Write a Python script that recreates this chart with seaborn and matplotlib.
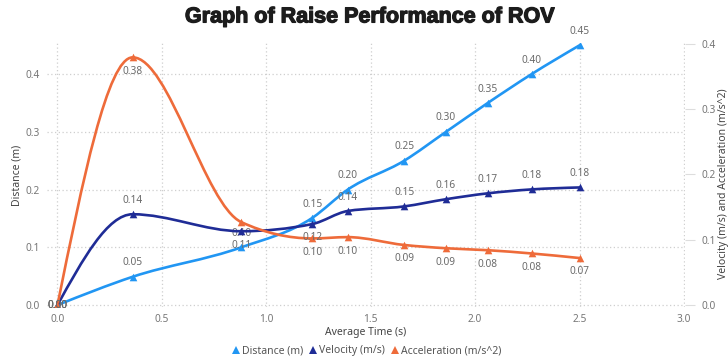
import numpy as np
import matplotlib
matplotlib.use("Agg")
import matplotlib.pyplot as plt
import matplotlib.patheffects as pe
from matplotlib.path import Path
from matplotlib.patches import PathPatch
from matplotlib.lines import Line2D
from matplotlib.ticker import FormatStrFormatter, MultipleLocator
import seaborn as sns

# ---- data -------------------------------------------------------------
time_s = [0.00, 0.36, 0.88, 1.22, 1.39, 1.66, 1.86, 2.06, 2.27, 2.50]
distance_m = [0.000, 0.049, 0.100, 0.151, 0.200, 0.250, 0.300, 0.350, 0.400, 0.450]
velocity_ms = [0.000, 0.139, 0.113, 0.124, 0.144, 0.151, 0.162, 0.171, 0.177, 0.180]
accel_ms2 = [0.000, 0.379, 0.127, 0.102, 0.104, 0.092, 0.087, 0.084, 0.079, 0.072]

series_names = ["Distance (m)", "Velocity (m/s)", "Acceleration (m/s^2)"]
x_ticks = [0.0, 0.5, 1.0, 1.5, 2.0, 2.5, 3.0]

# data label placement: 1 above, -1 below, 0 on the point, None hidden
distance_lbl = [0, 1, 1, 1, 1, 1, 1, 1, 1, 1]
velocity_lbl = [0, 1, -1, -1, 1, 1, 1, 1, 1, 1]
accel_lbl = [0, -1, None, -1, -1, -1, -1, -1, -1, -1]

colors = ["#2196F3", "#1F2C96", "#EE6B3A"]

sns.set_theme(style="white")
plt.rcParams["font.family"] = ["Noto Sans", "DejaVu Sans"]


def monotone_path(x, y):
    """Smooth monotone-X cubic through the points, as Bezier segments."""
    x = np.asarray(x, float)
    y = np.asarray(y, float)
    n = len(x)
    h = np.diff(x)
    s = np.diff(y) / h
    t = np.zeros(n)
    for i in range(1, n - 1):
        h0, h1 = h[i - 1], h[i]
        s0, s1 = s[i - 1], s[i]
        p = (s0 * h1 + s1 * h0) / (h0 + h1)
        sg0 = -1 if s0 < 0 else 1
        sg1 = -1 if s1 < 0 else 1
        t[i] = (sg0 + sg1) * min(abs(s0), abs(s1), 0.5 * abs(p))
    t[0] = (3 * s[0] - t[1]) / 2
    t[-1] = (3 * s[-1] - t[-2]) / 2
    verts = [(x[0], y[0])]
    codes = [Path.MOVETO]
    for i in range(n - 1):
        d = h[i] / 3
        verts += [(x[i] + d, y[i] + d * t[i]),
                  (x[i + 1] - d, y[i + 1] - d * t[i + 1]),
                  (x[i + 1], y[i + 1])]
        codes += [Path.CURVE4] * 3
    return Path(verts, codes)


fig = plt.figure(figsize=(7.28, 3.6), dpi=100)
ax = fig.add_axes([0.0646, 0.147, 0.8764, 0.7336])
ax2 = ax.twinx()

label_color = "#6b6b6b"


def draw_series(axis, yvals, color, placement):
    axis.add_patch(PathPatch(monotone_path(time_s, yvals), facecolor="none",
                             edgecolor=color, lw=1.9, zorder=3,
                             capstyle="round", joinstyle="round"))
    sns.scatterplot(x=time_s, y=yvals, ax=axis, marker="^", s=30,
                    color=color, edgecolor=color, linewidth=0, zorder=4,
                    legend=False)
    for xv, yv, pos in zip(time_s, yvals, placement):
        if pos is None:
            continue
        axis.annotate(f"{yv:.2f}", (xv, yv), xytext=(0, 10 * pos),
                      textcoords="offset points", ha="center", va="center",
                      fontsize=7.3, color=label_color, zorder=5)


draw_series(ax, distance_m, colors[0], distance_lbl)
draw_series(ax2, velocity_ms, colors[1], velocity_lbl)
draw_series(ax2, accel_ms2, colors[2], accel_lbl)

# ---- axes ---------------------------------------------------------------
ax.set_xlim(-0.05, 3.005)
ax.set_ylim(-0.0035, 0.454)
ax2.set_ylim(-0.003, 0.401)
ax.set_xticks(x_ticks)
ax.yaxis.set_major_locator(MultipleLocator(0.1))
ax2.yaxis.set_major_locator(MultipleLocator(0.1))
ax.xaxis.set_major_formatter(FormatStrFormatter("%.1f"))
ax.yaxis.set_major_formatter(FormatStrFormatter("%.1f"))
ax2.yaxis.set_major_formatter(FormatStrFormatter("%.1f"))

for a in (ax, ax2):
    for sp in a.spines.values():
        sp.set_visible(False)

ax.grid(True, linestyle=(0, (1, 2)), color="#cfcfcf", lw=0.9)
ax2.grid(False)
ax.set_axisbelow(True)

ax.tick_params(axis="both", length=0, labelsize=7.3, labelcolor="#777777", pad=5)
ax2.tick_params(axis="y", length=7, width=0.8, color="#dddddd", labelsize=7.3,
                labelcolor="#777777", pad=5)

ax.set_xlabel("Average Time (s)", fontsize=7.5, color="#444444")
ax.xaxis.set_label_coords(0.5, -0.098)
ax.xaxis.label.set_va("center")

ax.set_ylabel("Distance (m)", fontsize=7.5, color="#444444")
ax.yaxis.set_label_coords(-0.047, 0.5)
ax.yaxis.label.set_va("center")

ax2.set_ylabel("Velocity (m/s) and Acceleration (m/s^2)", fontsize=7.5,
               color="#444444", rotation=90)
ax2.yaxis.set_label_coords(1.0596, 0.466)
ax2.yaxis.label.set_va("center")
ax2.yaxis.label.set_ha("center")

fig.text(0.508, 0.953, "Graph of Raise Performance of ROV",
         ha="center", va="center", fontsize=15.5, fontweight="bold",
         family=["Liberation Sans", "DejaVu Sans"], color="#1c1c1c",
         path_effects=[pe.withStroke(linewidth=0.9, foreground="#1c1c1c")])

handles = [Line2D([], [], linestyle="none", marker="^", markersize=6,
                  color=c, markeredgewidth=0) for c in colors]
fig.legend(handles, series_names, loc="center", bbox_to_anchor=(0.504, 0.025),
           ncol=3, frameon=False, fontsize=7.5, handlelength=0.7,
           handletextpad=0.2, columnspacing=0.6, labelcolor="#555555")

fig.savefig("out.png", dpi=100)
